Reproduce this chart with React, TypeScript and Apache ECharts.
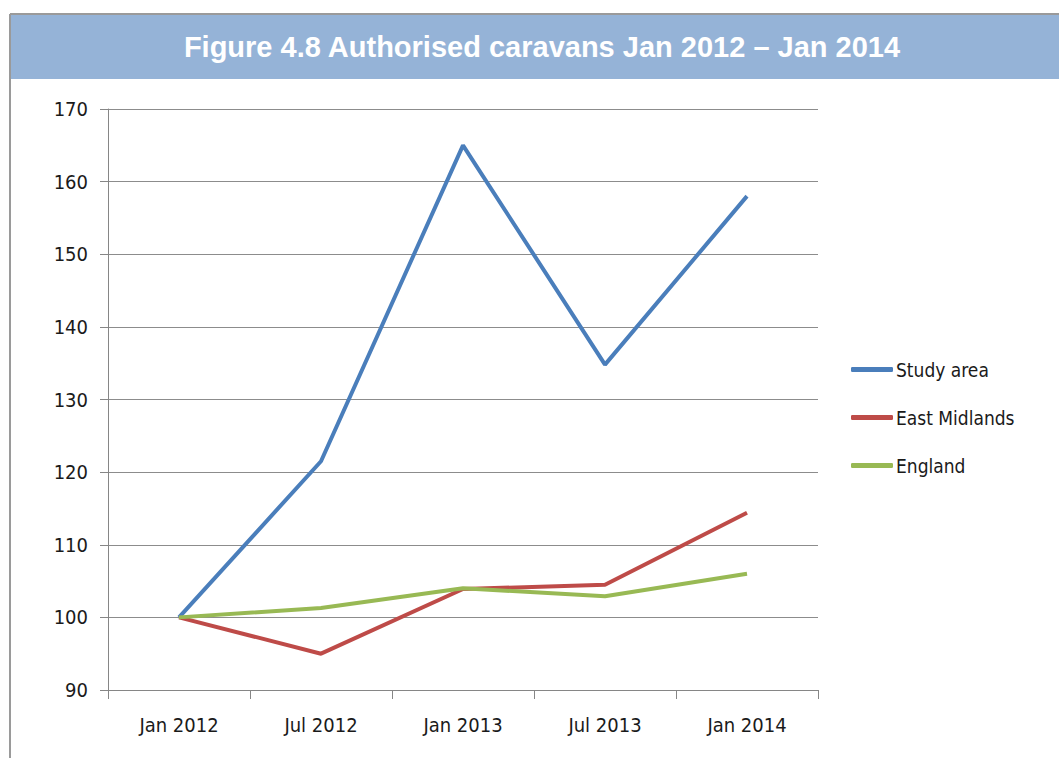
import React, { useEffect, useRef } from "react";
import * as echarts from "echarts";

const categories = ["Jan 2012", "Jul 2012", "Jan 2013", "Jul 2013", "Jan 2014"];
const studyArea = [100, 121.5, 165.0, 134.8, 158.0];
const eastMidlands = [100, 95.0, 103.9, 104.5, 114.4];
const england = [100, 101.3, 104.0, 102.9, 106.0];
const seriesNames = ["Study area", "East Midlands", "England"];
const seriesColors = ["#4a7ebb", "#be4b48", "#98b954"];
const titleText = "Figure 4.8 Authorised caravans Jan 2012 \u2013 Jan 2014";

const labelFont = '"Liberation Sans Narrow", "DejaVu Sans Condensed", "Noto Sans", sans-serif';

export default function App() {
  const ref = useRef<HTMLDivElement>(null);
  useEffect(() => {
    document.body.style.margin = "0";
    if (!ref.current) return;
    const chart = echarts.init(ref.current, undefined, { renderer: "svg" });
    const values = [studyArea, eastMidlands, england];
    chart.setOption({
      animation: false,
      backgroundColor: "#ffffff",
      graphic: [
        {
          type: "rect",
          shape: { x: 11, y: 15, width: 1048, height: 64 },
          style: { fill: "#95b3d7" },
          z: 0,
        },
        {
          type: "line",
          shape: { x1: 10, y1: 14, x2: 1059, y2: 14 },
          style: { stroke: "#9a9a9a", lineWidth: 2 },
        },
        {
          type: "line",
          shape: { x1: 10, y1: 14, x2: 10, y2: 758 },
          style: { stroke: "#9a9a9a", lineWidth: 2 },
        },
        {
          type: "text",
          x: 542,
          y: 47,
          style: {
            text: titleText,
            fill: "#ffffff",
            font: 'bold 29px "Liberation Sans", Arial, sans-serif',
            textAlign: "center",
            textVerticalAlign: "middle",
          },
        },
      ],
      grid: { left: 108, right: 241, top: 109, bottom: 68, containLabel: false },
      legend: {
        orient: "vertical",
        left: 846,
        top: 355,
        itemWidth: 42,
        itemHeight: 5,
        itemGap: 29,
        icon: "roundRect",
        data: seriesNames,
        textStyle: { fontFamily: labelFont, fontSize: 19, color: "#1a1a1a", padding: [0, 0, 0, -2] },
      },
      xAxis: {
        type: "category",
        data: categories,
        boundaryGap: true,
        axisLine: { lineStyle: { color: "#868686", width: 1 } },
        axisTick: { show: true, length: 9, alignWithLabel: false, lineStyle: { color: "#868686" } },
        axisLabel: { fontFamily: labelFont, fontSize: 20, color: "#1a1a1a", margin: 25 },
        splitLine: { show: false },
      },
      yAxis: {
        type: "value",
        min: 90,
        max: 170,
        interval: 10,
        axisLine: { show: true, lineStyle: { color: "#868686", width: 1 } },
        axisTick: { show: true, length: 8, lineStyle: { color: "#868686" } },
        axisLabel: { fontFamily: labelFont, fontSize: 20, color: "#1a1a1a", margin: 20 },
        splitLine: { show: true, lineStyle: { color: "#8c8c8c", width: 1 } },
      },
      series: seriesNames.map((name, i) => ({
        name,
        type: "line",
        data: values[i],
        symbol: "none",
        color: seriesColors[i],
        lineStyle: { width: 4, color: seriesColors[i] },
        z: 3 + i,
      })),
    });
    return () => chart.dispose();
  }, []);
  return <div ref={ref} style={{ width: 1059, height: 758 }} />;
}
